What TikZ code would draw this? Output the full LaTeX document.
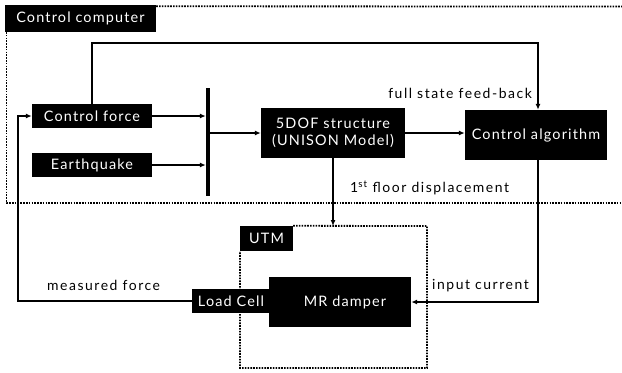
\documentclass[tikz,border=0pt]{standalone}
\usepackage{fontspec}
\setmainfont{Lato}
\newfontfamily\blkfont[LetterSpace=8]{Lato}
\newfontfamily\lblfont[LetterSpace=11]{Lato}
\usetikzlibrary{arrows.meta}
\begin{document}
\begin{tikzpicture}[x=1bp,y=-1bp,
  blk/.style={fill=black,text=white,inner sep=0pt,font=\blkfont\fontsize{14.5}{17}\selectfont,align=center},
  lbl/.style={inner sep=0pt,font=\lblfont\fontsize{14}{16}\selectfont},
  con/.style={line width=1.8bp},
  arr/.style={con,-{Latex[length=6bp,width=5bp]}},
  dot/.style={dash pattern=on 1.6bp off 1.2bp,line width=1.8bp}]
\useasboundingbox (0,0) rectangle (622,372);
% Control computer region
\node[blk,minimum width=151bp,minimum height=27bp] (cc) at (80.5,18.5) {Control computer};
\draw[dot] (cc.north east) ++(0,1.5) -- (622,6.5);
\draw[dot] (6.5,32) -- (6.5,203) -- (622,203);
% blocks
\node[blk,minimum width=120bp,minimum height=24bp] (cf) at (92,116) {Control force};
\node[blk,minimum width=120bp,minimum height=24bp] (eq) at (92,165) {Earthquake};
\node[fill=black,inner sep=0pt,minimum width=4bp,minimum height=108bp] (bar) at (208,142) {};
\node[blk,minimum width=144bp,minimum height=50bp] (sd) at (333,133) {5DOF structure\\(UNISON Model)};
\node[blk,minimum width=142bp,minimum height=50bp] (ca) at (536,135) {Control algorithm};
% UTM region
\node[blk,minimum width=53bp,minimum height=25bp] (utm) at (266.5,238.5) {UTM};
\draw[dot] (utm.north east) -- (427,226) -- (427,368) -- (240,368) -- (240,251);
\node[blk,minimum width=142bp,minimum height=50bp] (mr) at (340,302) {\hspace*{10bp}MR damper};
\node[blk,minimum width=78bp,minimum height=24bp] (lc) at (231,301) {Load Cell};
% connectors
\coordinate (top1) at (92,43);
\coordinate (top2) at (538,43);
\draw[arr] (cf.north) -- (top1) -- (top2) -- (top2 |- ca.north);
\draw[arr] (cf.east) -- (cf.east -| bar.west);
\draw[arr] (eq.east) -- (eq.east -| bar.west);
\draw[arr] (bar.east |- sd.west) -- (sd.west);
\draw[arr] (sd.east) -- (sd.east -| ca.west);
\draw[arr] (sd.south) -- (333,226);
\coordinate (ic) at (538,302);
\draw[arr] (top2 |- ca.south) -- (ic) -- (mr.east);
\coordinate (mf) at (18,301);
\draw[arr] (lc.west) -- (mf) -- (18,116) -- (cf.west);
% labels
\node[lbl,anchor=south east] (fs) at (532,99) {full state feed-back};
\node[lbl,anchor=south west] (fd) at (350,195) {1\textsuperscript{st} floor displacement};
\node[lbl,anchor=south west] (inc) at (432,292) {input current};
\node[lbl,anchor=south west] (mfl) at (47,291) {measured force};
\end{tikzpicture}
\end{document}
